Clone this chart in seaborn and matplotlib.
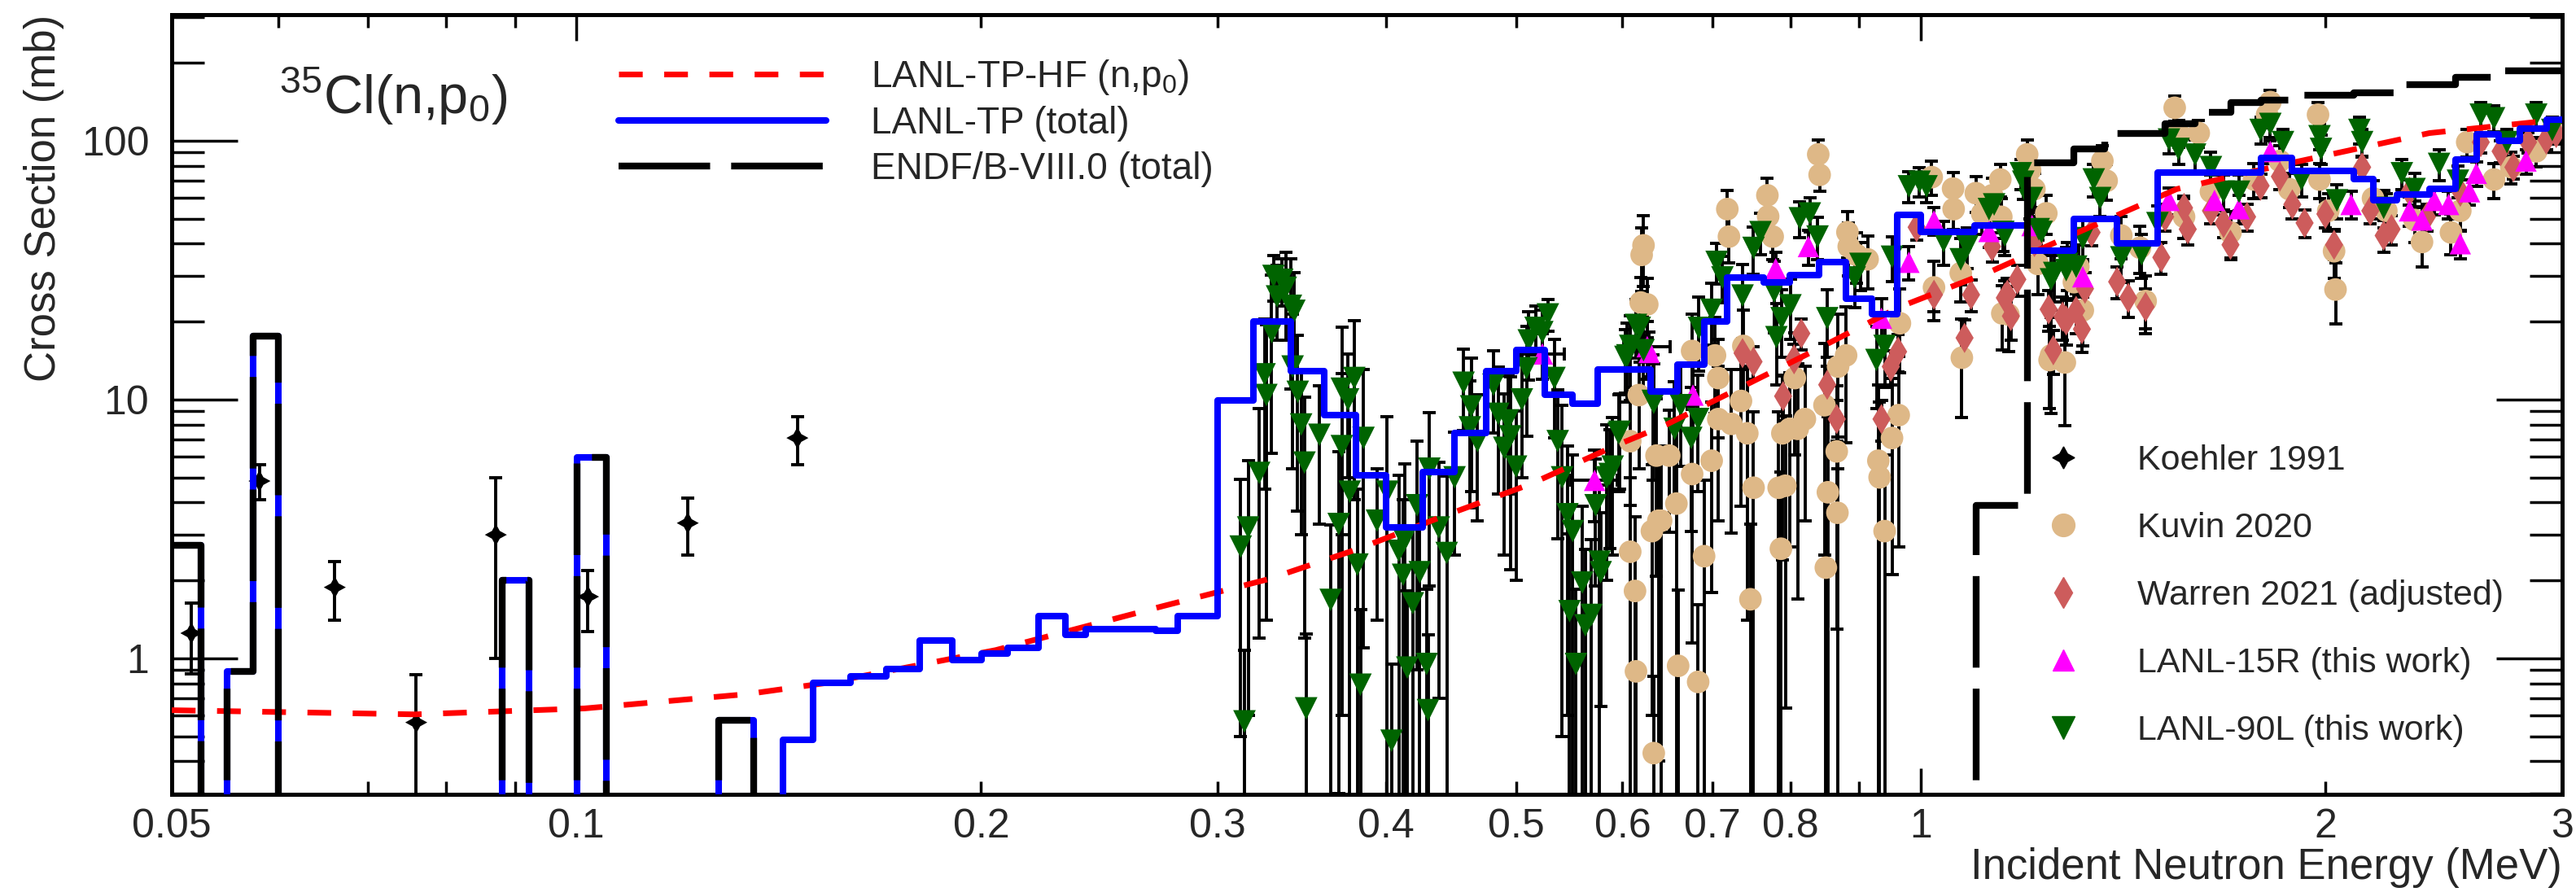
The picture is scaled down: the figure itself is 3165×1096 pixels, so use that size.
import matplotlib
matplotlib.use("Agg")
import numpy as np
import pandas as pd
import seaborn as sns
import matplotlib.pyplot as plt
from matplotlib.lines import Line2D
from matplotlib.ticker import FixedLocator, FixedFormatter, NullFormatter

# ---------------- data ----------------
# Hauser-Feshbach (n,p0) curve
hf_E = [0.05, 0.0758, 0.1014, 0.134, 0.154, 0.205, 0.273, 0.327, 0.381, 0.442,
        0.512, 0.594, 0.647, 0.82, 0.963, 1.13, 1.28, 1.55, 1.865, 2.39, 3.0]
hf_S = [0.63, 0.607, 0.64, 0.727, 0.805, 1.075, 1.59, 2.02, 2.64, 3.55,
        4.7, 6.66, 8.0, 14.8, 22.7, 31.4, 42.0, 65.0, 81.0, 107.0, 121.0]

# LANL-TP (total) histogram: bin lower edges and values (0.01 = below frame)
tp_E = [0.0500, 0.0526, 0.0550, 0.0575, 0.0600, 0.0881, 0.0922, 0.1001, 0.1053,
        0.1275, 0.1355, 0.1425, 0.150, 0.160, 0.170, 0.180, 0.1904, 0.2002,
        0.2093, 0.2207, 0.2311, 0.2392, 0.2697, 0.280, 0.300, 0.3188, 0.340,
        0.360, 0.380, 0.400, 0.426, 0.450, 0.475, 0.500, 0.525, 0.551, 0.575,
        0.630, 0.659, 0.690, 0.718, 0.764, 0.799, 0.840, 0.880, 0.920, 0.960,
        1.000, 1.096, 1.200, 1.300, 1.400, 1.500, 1.790, 1.890, 2.100, 2.170,
        2.260, 2.390, 2.500, 2.590, 2.690, 2.790, 2.920, 3.000]
tp_S = [2.74, 0.01, 0.89, 17.6, 0.01, 2.0, 0.01, 5.98, 0.01,
        0.577, 0.01, 0.485, 0.805, 0.85, 0.91, 1.17, 0.985, 1.04,
        1.10, 1.46, 1.23, 1.30, 1.28, 1.46, 9.9, 20.0, 12.9,
        8.7, 5.1, 3.2, 5.25, 7.4, 12.9, 15.5, 10.4, 9.6, 13.1,
        10.7, 13.6, 20.0, 29.6, 28.4, 30.3, 34.0, 24.5, 21.4, 51.7,
        44.4, 47.0, 37.6, 49.9, 40.0, 75.4, 86.0, 76.5, 71.0, 59.0,
        62.0, 65.0, 84.7, 106.0, 100.0, 111.0, 121.0, 121.0]

# ENDF/B-VIII.0 (total) histogram
endf_E = [0.0500, 0.0526, 0.0550, 0.0575, 0.0600, 0.0881, 0.0922, 0.1001, 0.1053,
          0.1275, 0.1355, 1.100, 1.200, 1.300, 1.370, 1.520, 1.600, 1.700, 1.790,
          1.890, 2.100, 2.260, 2.500, 2.700, 3.000]
endf_S = [2.74, 0.01, 0.89, 17.6, 0.01, 2.0, 0.01, 5.98, 0.01,
          0.577, 0.01, 3.9, 82.0, 93.0, 107.0, 116.0, 129.0, 140.0, 144.0,
          150.0, 153.0, 165.0, 176.0, 186.0, 186.0]

# Koehler 1991
koe_E = [0.0517, 0.0581, 0.0661, 0.0760, 0.0871, 0.102, 0.121, 0.146]
koe_S = [1.25, 4.84, 1.88, 0.565, 3.0, 1.73, 3.33, 7.1]
koe_err = [0.38, 0.75, 0.48, 0.30, 2.0, 0.46, 0.83, 1.5]

# Kuvin 2020
kuv_E = [0.608, 0.608, 0.613, 0.614, 0.617, 0.619, 0.620, 0.622, 0.626, 0.631,
         0.633, 0.636, 0.638, 0.641, 0.650, 0.658, 0.660, 0.676, 0.676, 0.683,
         0.690, 0.699, 0.703, 0.707, 0.707, 0.718, 0.720, 0.723, 0.735, 0.738,
         0.743, 0.747, 0.751, 0.769, 0.770, 0.776, 0.784, 0.787, 0.789, 0.793,
         0.799, 0.806, 0.810, 0.820, 0.839, 0.841, 0.848, 0.850, 0.853, 0.866,
         0.867, 0.868, 0.880, 0.882, 0.884, 0.896, 0.913, 0.930, 0.932, 0.940,
         0.952, 0.963, 0.965, 1.019, 1.023, 1.057, 1.058, 1.071, 1.073, 1.099,
         1.111, 1.130, 1.146, 1.148, 1.150, 1.162, 1.200, 1.206, 1.215, 1.222,
         1.240, 1.247, 1.250, 1.280, 1.300, 1.310, 1.320, 1.365, 1.375, 1.410,
         1.456, 1.470, 1.545, 1.555, 1.570, 1.610, 1.644, 1.700, 1.770, 1.810,
         1.820, 1.850, 1.880, 1.975, 1.980, 2.010, 2.030, 2.035, 2.170, 2.220,
         2.330, 2.360, 2.480, 2.520, 2.550, 2.670, 2.750, 2.870, 2.950]
kuv_S = [6.9, 2.58, 1.82, 0.89, 10.4, 23.7, 36.2, 39.4, 23.3, 3.1,
         0.43, 6.07, 3.4, 3.4, 6.07, 3.96, 0.935, 5.15, 15.4, 0.81,
         2.48, 5.8, 14.8, 12.1, 8.4, 54.4, 42.6, 8.05, 9.87, 16.1,
         7.4, 1.69, 4.56, 61.5, 51.0, 42.6, 4.56, 2.65, 7.4, 4.64,
         7.7, 12.1, 7.7, 8.4, 88.5, 73.8, 9.5, 2.24, 4.38, 6.3,
         3.65, 13.4, 14.8, 44.3, 39.0, 36.2, 34.8, 5.8, 5.0, 3.1,
         7.1, 8.7, 19.7, 72.3, 27.1, 65.3, 54.4, 30.8, 14.5, 62.7,
         52.3, 61.5, 70.8, 50.8, 21.5, 21.3, 88.5, 77.0, 65.0, 33.4,
         52.4, 14.2, 14.8, 13.9, 28.4, 32.6, 22.1, 83.5, 70.0, 43.0,
         38.6, 24.0, 134.0, 107.0, 50.8, 107.0, 63.5, 44.2, 70.8, 126.0,
         141.0, 83.5, 65.0, 126.0, 70.8, 53.6, 37.4, 26.6, 59.9, 53.6,
         49.4, 40.6, 44.2, 53.6, 98.7, 70.8, 79.0, 91.0, 110.0]
kuv_err = [3.0, 2.4, 1.7, 0.85, 5.0, 6.0, 10.0, 12.0, 6.0, 2.5,
           0.42, 4.0, 3.0, 3.2, 3.0, 3.8, 0.9, 4.0, 6.0, 0.8,
           2.4, 4.0, 6.0, 5.0, 5.0, 10.0, 9.0, 5.0, 6.0, 6.0,
           6.0, 1.6, 4.4, 10.0, 9.0, 8.0, 4.4, 2.6, 5.0, 4.0,
           5.0, 6.0, 6.0, 5.0, 12.0, 10.0, 7.0, 2.2, 4.2, 5.0,
           3.5, 8.0, 8.0, 9.0, 9.0, 8.0, 8.0, 5.6, 4.8, 3.0,
           5.0, 6.0, 7.0, 11.0, 7.0, 10.0, 9.0, 7.0, 6.0, 10.0,
           9.0, 10.0, 10.0, 9.0, 6.0, 6.0, 12.0, 11.0, 10.0, 8.0,
           9.0, 5.0, 6.0, 6.0, 7.0, 7.0, 6.0, 12.0, 11.0, 8.0,
           8.0, 6.0, 15.0, 13.0, 9.0, 13.0, 10.0, 9.0, 11.0, 14.0,
           15.0, 12.0, 10.0, 14.0, 11.0, 9.0, 8.0, 7.0, 10.0, 9.0,
           9.0, 8.0, 8.0, 9.0, 12.0, 11.0, 11.0, 12.0, 13.0]

# Warren 2021 (adjusted)
war_E = [0.737, 0.751, 0.790, 0.805, 0.815, 0.852, 0.866, 0.935, 0.950, 0.962,
         0.993, 1.023, 1.078, 1.090, 1.130, 1.155, 1.160, 1.167, 1.180, 1.215,
         1.245, 1.255, 1.275, 1.283, 1.305, 1.318, 1.325, 1.340, 1.400, 1.427,
         1.470, 1.510, 1.520, 1.570, 1.580, 1.644, 1.680, 1.700, 1.749, 1.790,
         1.850, 1.890, 1.930, 2.000, 2.030, 2.130, 2.160, 2.210, 2.240, 2.310,
         2.380, 2.520, 2.610, 2.700, 2.760, 2.830, 2.920, 2.970]
war_S = [15.1, 14.0, 10.3, 14.3, 18.0, 11.4, 8.4, 8.4, 13.4, 15.3,
         46.3, 25.4, 17.3, 25.4, 39.0, 24.7, 25.4, 21.0, 29.1, 40.6,
         22.3, 15.5, 20.9, 20.2, 22.0, 18.7, 26.8, 44.2, 28.5, 24.7,
         22.8, 35.4, 50.8, 55.0, 45.5, 53.6, 48.1, 39.6, 50.8, 67.0,
         72.7, 56.7, 48.1, 52.1, 39.6, 79.0, 53.6, 43.0, 45.5, 63.5,
         50.8, 63.5, 98.7, 91.0, 79.0, 98.7, 101.0, 107.0]
war_err = [2.0, 2.0, 2.0, 2.0, 2.5, 2.0, 1.5, 1.5, 2.0, 2.5,
           5.0, 3.5, 3.0, 3.5, 5.0, 4.0, 4.0, 4.0, 4.0, 5.0,
           4.0, 3.0, 4.0, 4.0, 4.0, 3.5, 4.0, 5.0, 4.0, 4.0,
           4.0, 5.0, 6.0, 6.0, 6.0, 6.0, 6.0, 5.0, 6.0, 7.0,
           8.0, 7.0, 6.0, 6.0, 5.0, 8.0, 6.0, 6.0, 6.0, 7.0,
           6.0, 7.0, 9.0, 9.0, 8.0, 9.0, 9.0, 10.0]

# LANL-15R (this work)
l15_E = [0.523, 0.572, 0.626, 0.628, 0.677, 0.780, 0.825, 0.935, 0.980, 1.023,
         1.124, 1.210, 1.320, 1.530, 1.654, 1.725, 1.820, 2.090, 2.310, 2.360,
         2.410, 2.470, 2.520, 2.560, 2.590, 2.820]
l15_S = [15.0, 4.87, 16.0, 15.2, 10.4, 32.0, 39.0, 20.6, 33.9, 49.0,
         44.6, 47.0, 29.8, 58.8, 58.8, 54.6, 90.8, 56.7, 53.6, 49.4,
         58.8, 56.7, 40.0, 63.5, 74.8, 83.5]
l15_err = [3.0, 1.5, 4.0, 3.0, 3.0, 5.0, 6.0, 4.0, 5.0, 6.0,
           6.0, 6.0, 5.0, 7.0, 7.0, 7.0, 9.0, 7.0, 7.0, 6.0,
           7.0, 7.0, 5.0, 7.0, 8.0, 9.0]
l15_xerr = [0.02, 0.023, 0.025, 0.0, 0.0, 0.0, 0.0, 0.0, 0.0, 0.0,
            0.0, 0.0, 0.0, 0.0, 0.0, 0.0, 0.0, 0.0, 0.0, 0.0,
            0.0, 0.0, 0.0, 0.0, 0.0, 0.0]

# LANL-90L (this work)
l90_E = [0.312, 0.314, 0.316, 0.322, 0.325, 0.326, 0.329, 0.330, 0.332, 0.335,
         0.337, 0.340, 0.342, 0.341, 0.344, 0.346, 0.348, 0.349, 0.357, 0.364,
         0.369, 0.371, 0.371, 0.375, 0.376, 0.379, 0.381, 0.383, 0.385, 0.394,
         0.401, 0.404, 0.409, 0.412, 0.413, 0.415, 0.419, 0.422, 0.424, 0.429,
         0.430, 0.431, 0.438, 0.444, 0.450, 0.457, 0.462, 0.463, 0.468, 0.481,
         0.485, 0.490, 0.493, 0.495, 0.500, 0.505, 0.509, 0.511, 0.517, 0.523,
         0.528, 0.534, 0.537, 0.541, 0.546, 0.548, 0.551, 0.554, 0.560, 0.563,
         0.569, 0.573, 0.577, 0.578, 0.584, 0.587, 0.590, 0.596, 0.597, 0.603,
         0.605, 0.608, 0.614, 0.618, 0.622, 0.632, 0.633, 0.656, 0.663, 0.675,
         0.683, 0.684, 0.699, 0.705, 0.712, 0.737, 0.751, 0.760, 0.778, 0.781,
         0.788, 0.800, 0.813, 0.827, 0.838, 0.852, 0.893, 0.902, 0.927, 0.940,
         0.952, 0.980, 0.998, 1.010, 1.040, 1.071, 1.083, 1.124, 1.134, 1.152,
         1.155, 1.187, 1.192, 1.205, 1.210, 1.224, 1.230, 1.250, 1.257, 1.283,
         1.285, 1.305, 1.320, 1.345, 1.360, 1.410, 1.460, 1.500, 1.530, 1.555,
         1.600, 1.644, 1.680, 1.725, 1.790, 1.820, 1.860, 1.920, 1.980, 1.985,
         2.040, 2.120, 2.130, 2.210, 2.280, 2.330, 2.430, 2.510, 2.610, 2.670,
         2.730, 2.870, 2.950]
l90_S = [2.7, 0.57, 3.2, 5.2, 12.5, 10.4, 18.2, 30.0, 25.0, 29.0,
         27.0, 23.0, 22.0, 13.4, 10.7, 8.0, 5.7, 0.64, 7.3, 1.68,
         3.3, 11.0, 6.6, 10.0, 4.4, 12.1, 2.3, 0.79, 7.1, 3.4,
         4.4, 0.48, 2.6, 2.1, 2.85, 0.92, 1.63, 3.9, 2.15, 0.95,
         0.63, 5.4, 3.2, 2.55, 5.0, 11.6, 7.8, 9.4, 6.9, 11.4,
         8.8, 6.5, 8.3, 7.2, 5.5, 10.0, 13.2, 16.9, 18.9, 18.2,
         21.3, 12.1, 6.9, 5.0, 3.6, 1.52, 3.1, 0.95, 1.96, 1.34,
         1.47, 3.9, 2.36, 2.15, 5.0, 5.15, 5.5, 7.4, 7.5, 14.6,
         14.8, 16.1, 19.4, 18.9, 15.5, 9.87, 9.7, 7.7, 9.5, 7.1,
         8.4, 18.9, 22.2, 34.0, 29.6, 25.2, 38.5, 44.3, 26.1, 17.4,
         20.6, 23.1, 50.1, 52.3, 42.6, 20.6, 29.6, 33.4, 14.2, 16.1,
         35.6, 66.6, 69.4, 66.6, 40.9, 34.8, 39.0, 54.4, 56.7, 44.4,
         43.0, 74.8, 69.4, 59.0, 60.0, 45.5, 44.4, 29.1, 30.8, 31.6,
         33.4, 32.6, 42.0, 70.8, 60.0, 35.4, 36.4, 48.0, 101.0, 92.9,
         88.3, 79.0, 63.5, 63.5, 110.0, 116.0, 98.7, 70.8, 104.0, 92.9,
         58.8, 110.0, 98.7, 55.0, 74.8, 65.0, 81.3, 70.0, 126.0, 122.0,
         98.7, 126.0, 110.0]
l90_err = [2.2, 0.5, 2.6, 4.0, 8.0, 9.0, 12.0, 6.0, 8.0, 6.0,
           10.0, 12.0, 9.0, 8.0, 7.0, 5.0, 4.5, 0.6, 4.0, 1.6,
           3.0, 8.0, 6.0, 5.0, 4.2, 8.0, 2.2, 0.75, 6.0, 2.0,
           4.2, 0.47, 2.5, 2.0, 2.8, 0.9, 1.6, 3.0, 2.1, 0.9,
           0.6, 3.5, 2.5, 2.5, 2.5, 4.0, 4.0, 5.0, 3.5, 4.0,
           4.5, 4.0, 4.0, 5.0, 3.5, 5.0, 6.0, 5.0, 4.0, 4.0,
           3.0, 5.0, 4.0, 4.5, 3.0, 1.5, 3.0, 0.9, 1.9, 1.3,
           1.4, 2.0, 2.3, 1.5, 3.0, 2.5, 3.0, 3.0, 3.0, 4.0,
           5.0, 5.0, 5.0, 5.0, 5.0, 5.0, 4.0, 4.0, 4.0, 4.0,
           4.0, 6.0, 6.0, 6.0, 6.0, 8.0, 8.0, 8.0, 8.0, 6.0,
           6.0, 6.0, 8.0, 8.0, 8.0, 6.0, 7.0, 7.0, 5.0, 5.0,
           7.0, 9.0, 9.0, 9.0, 8.0, 7.0, 7.0, 8.0, 8.0, 7.0,
           7.0, 10.0, 10.0, 9.0, 9.0, 8.0, 8.0, 7.0, 7.0, 7.0,
           7.0, 7.0, 8.0, 10.0, 9.0, 7.0, 7.0, 8.0, 12.0, 12.0,
           12.0, 11.0, 10.0, 10.0, 13.0, 13.0, 12.0, 10.0, 12.0, 12.0,
           9.0, 13.0, 12.0, 9.0, 10.0, 10.0, 11.0, 10.0, 14.0, 14.0,
           12.0, 14.0, 13.0]

# ---------------- styling ----------------
sns.set_style("ticks")
plt.rcParams["font.family"] = ["Liberation Sans", "DejaVu Sans"]
plt.rcParams["mathtext.fontset"] = "custom"
plt.rcParams["mathtext.rm"] = "Liberation Sans"
plt.rcParams["mathtext.it"] = "Liberation Sans:italic"
plt.rcParams["mathtext.bf"] = "Liberation Sans:bold"

C_GREEN = "#006400"
C_TAN = "#DEB887"
C_DIAM = "#CD5C5C"
C_MAG = "#FF00FF"

S_KOE, S_KUV, S_WAR, S_L15, S_L90 = 380, 400, 360, 360, 400

fig = plt.figure(figsize=(31.65, 10.96), dpi=100)
ax = fig.add_axes([0.0667, 0.1095, 0.9279, 0.8741])
ax.set_xscale("log")
ax.set_yscale("log")

eb_kw = dict(fmt="none", ecolor="black", elinewidth=2.8, capsize=6, capthick=2.8)

def data_series(E, S, err, marker, color, size, xerr=None):
    ax.errorbar(E, S, yerr=err, xerr=xerr, zorder=2, **eb_kw)
    df = pd.DataFrame({"E": E, "S": S})
    sns.scatterplot(data=df, x="E", y="S", marker=marker, color=color, s=size,
                    edgecolor="none", linewidth=0, ax=ax, zorder=3, legend=False)

data_series(kuv_E, kuv_S, kuv_err, "o", C_TAN, S_KUV)
data_series(war_E, war_S, war_err, "d", C_DIAM, S_WAR)
data_series(l15_E, l15_S, l15_err, "^", C_MAG, S_L15, xerr=l15_xerr)
data_series(l90_E, l90_S, l90_err, "v", C_GREEN, S_L90)
data_series(koe_E, koe_S, koe_err, (4, 1, 0), "black", S_KOE)

# curves
hf_df = pd.DataFrame({"E": hf_E, "S": hf_S})
sns.lineplot(data=hf_df, x="E", y="S", color="red", lw=5, estimator=None, ax=ax, zorder=4)
ax.lines[-1].set_dashes((4.2, 3.8))

tp_df = pd.DataFrame({"E": tp_E, "S": tp_S})
sns.lineplot(data=tp_df, x="E", y="S", color="#0000FF", lw=5.8, estimator=None,
             drawstyle="steps-post", ax=ax, zorder=5)

endf_df = pd.DataFrame({"E": endf_E, "S": endf_S})
sns.lineplot(data=endf_df, x="E", y="S", color="black", lw=6, estimator=None,
             drawstyle="steps-post", ax=ax, zorder=6)
ax.lines[-1].set_dashes((13.5, 3.1))

ax.set_xlim(0.05, 3.0)
ax.set_ylim(0.298, 307)

# ticks
for s in ax.spines.values():
    s.set_linewidth(3.6)
    s.set_color("black")
ax.xaxis.set_major_locator(FixedLocator([0.1, 1.0]))
ax.xaxis.set_major_formatter(FixedFormatter(["0.1", "1"]))
xminor = [0.05, 0.06, 0.07, 0.08, 0.09, 0.2, 0.3, 0.4, 0.5, 0.6, 0.7, 0.8, 0.9, 2, 3]
xminor_lab = ["0.05", "", "", "", "", "0.2", "0.3", "0.4", "0.5", "0.6", "0.7", "0.8", "", "2", "3"]
ax.xaxis.set_minor_locator(FixedLocator(xminor))
ax.xaxis.set_minor_formatter(FixedFormatter(xminor_lab))
ax.yaxis.set_major_locator(FixedLocator([1, 10, 100]))
ax.yaxis.set_major_formatter(FixedFormatter(["1", "10", "100"]))
yminor = [0.3, 0.4, 0.5, 0.6, 0.7, 0.8, 0.9, 2, 3, 4, 5, 6, 7, 8, 9,
          20, 30, 40, 50, 60, 70, 80, 90, 200, 300]
ax.yaxis.set_minor_locator(FixedLocator(yminor))
ax.yaxis.set_minor_formatter(NullFormatter())

ax.tick_params(axis="both", which="both", direction="in", top=True, right=True,
               width=2.5, color="black", labelsize=36)
ax.tick_params(axis="x", which="major", length=23, pad=12)
ax.tick_params(axis="x", which="minor", length=11.5, pad=12)
ax.tick_params(axis="y", which="major", length=58, pad=20)
ax.tick_params(axis="y", which="minor", length=29, pad=20)

ax.set_xlabel("Incident Neutron Energy (MeV)", fontsize=38, loc="right")
ax.xaxis.set_label_coords(1.0, -0.068)
ax.set_ylabel("Cross Section (mb)", fontsize=38, loc="top")
ax.yaxis.set_label_coords(-0.045, 1.0)

ax.text(0.045, 0.873, r"$^{35}$Cl(n,p$_{0}$)", transform=ax.transAxes,
        fontsize=48, va="baseline", ha="left")

# legends
h_top = [Line2D([], [], color="red", lw=5, dashes=(4.2, 3.8)),
         Line2D([], [], color="#0000FF", lw=5.8),
         Line2D([], [], color="black", lw=6, dashes=(13.5, 3.1))]
lab_top = ["LANL-TP-HF (n,p$_{0}$)", "LANL-TP (total)", "ENDF/B-VIII.0 (total)"]
leg1 = ax.legend(h_top, lab_top, loc="upper left", bbox_to_anchor=(0.187, 0.945),
                 fontsize=33, frameon=False, handlelength=5.55, handletextpad=1.2,
                 labelspacing=0.25, borderpad=0, borderaxespad=0)
ax.add_artist(leg1)

ms = lambda s: np.sqrt(s)
h_bot = [Line2D([], [], ls="none", marker=(4, 1, 0), color="black", markersize=ms(S_KOE)),
         Line2D([], [], ls="none", marker="o", color=C_TAN, markersize=ms(S_KUV)),
         Line2D([], [], ls="none", marker="d", color=C_DIAM, markersize=ms(S_WAR)),
         Line2D([], [], ls="none", marker="^", color=C_MAG, markersize=ms(S_L15)),
         Line2D([], [], ls="none", marker="v", color=C_GREEN, markersize=ms(S_L90))]
lab_bot = ["Koehler 1991", "Kuvin 2020", "Warren 2021 (adjusted)",
           "LANL-15R (this work)", "LANL-90L (this work)"]
ax.legend(h_bot, lab_bot, loc="upper left", bbox_to_anchor=(0.784, 0.449),
          fontsize=31, frameon=False, handlelength=1.0, handletextpad=1.6,
          labelspacing=1.0, borderpad=0, borderaxespad=0)

fig.savefig("out.png", dpi=100)
